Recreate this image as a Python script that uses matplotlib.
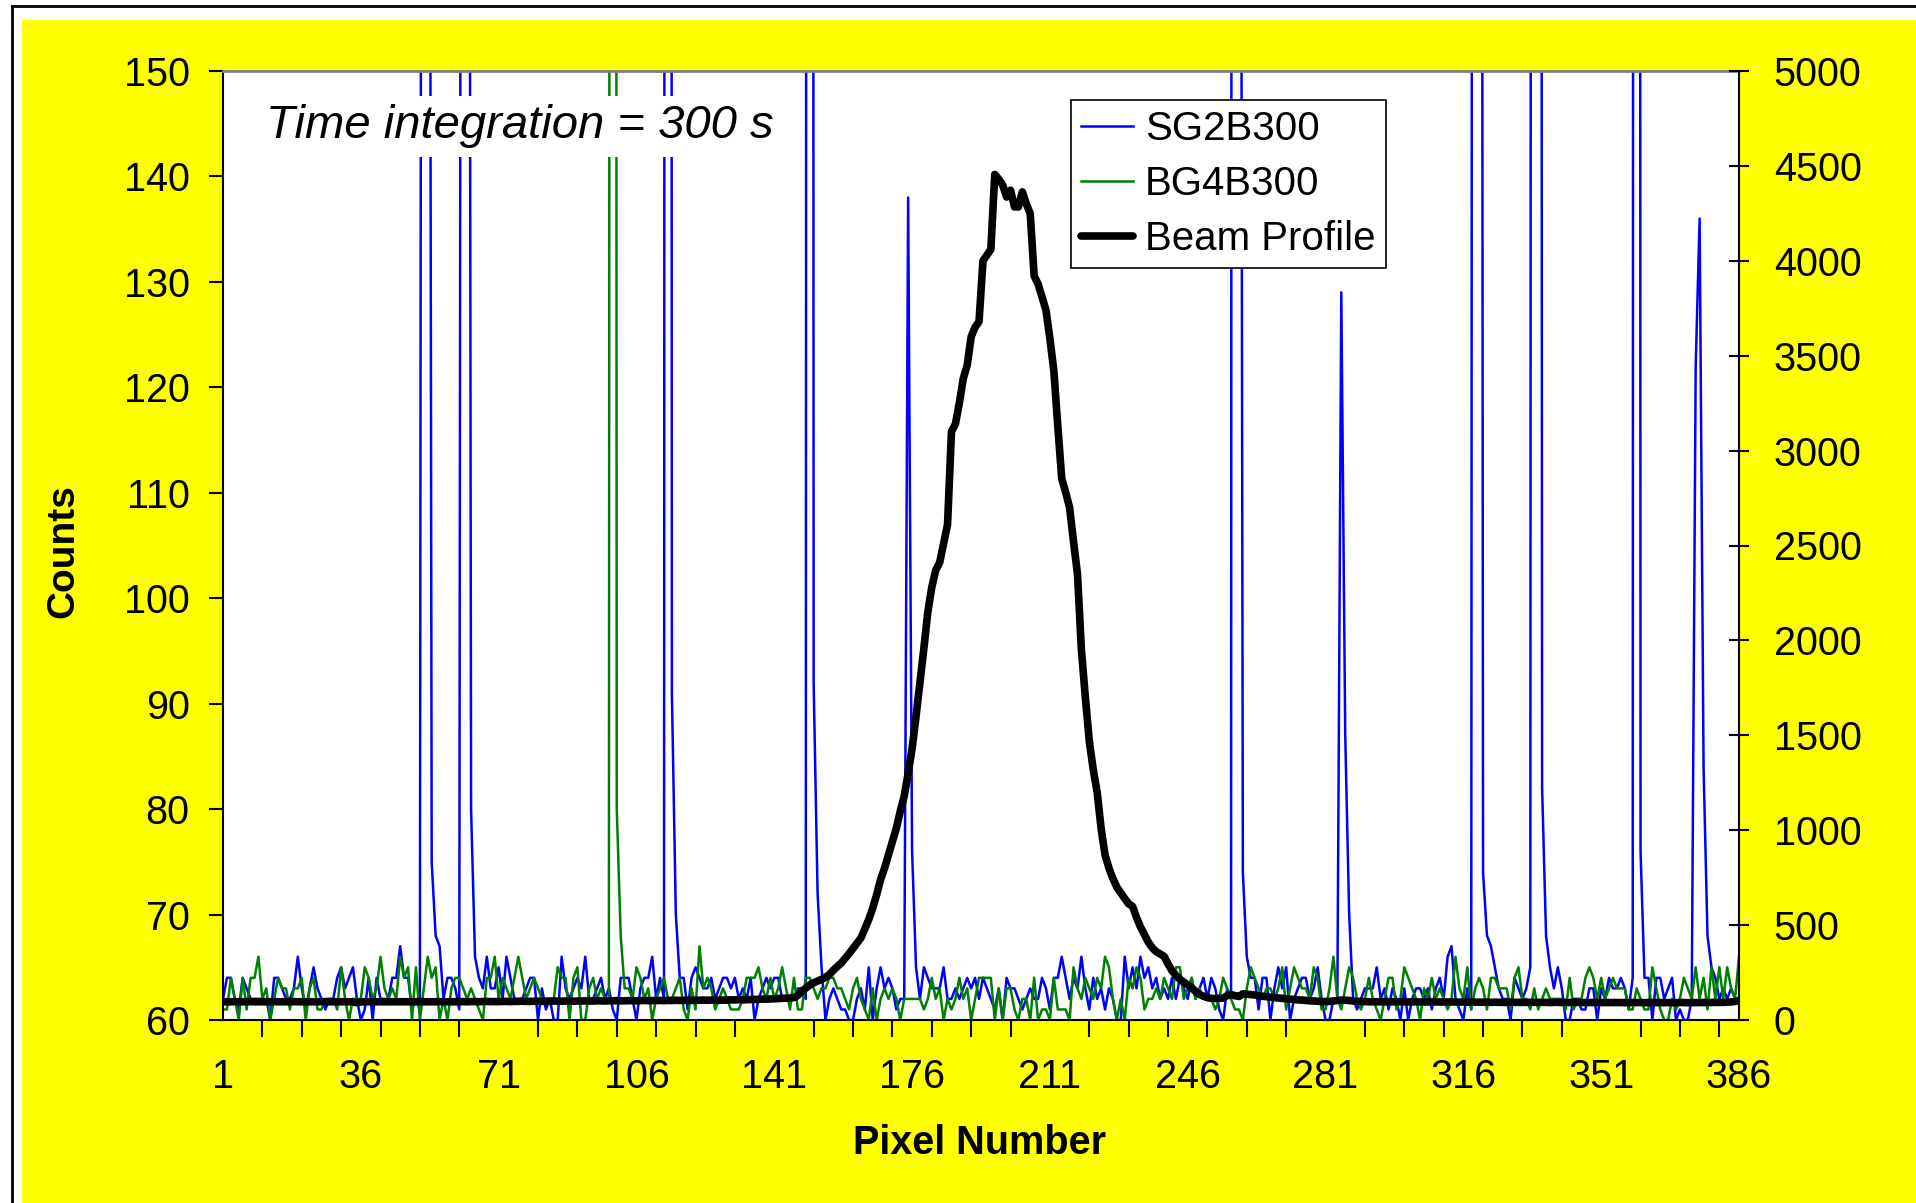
import matplotlib
matplotlib.use("Agg")
import matplotlib.pyplot as plt
from matplotlib.patches import Rectangle
from matplotlib.lines import Line2D

plt.rcParams['font.family'] = ['Liberation Sans', 'DejaVu Sans']

# detector counts per pixel (spikes above 150 are clipped there)
sg2b300 = [
    62, 64, 64, 62, 61, 64, 63, 62, 62, 62,
    62, 62, 60, 64, 64, 63, 62, 62, 63, 66,
    63, 61, 63, 65, 63, 62, 61, 62, 62, 64,
    65, 63, 64, 65, 62, 60, 61, 64, 60, 64,
    62, 62, 62, 64, 64, 67, 64, 64, 61, 62,
    61, 420, 310, 75, 68, 67, 62, 64, 64, 63,
    61, 380, 350, 80, 66, 64, 63, 66, 63, 63,
    65, 62, 66, 64, 62, 62, 62, 63, 64, 64,
    60, 63, 61, 62, 60, 60, 66, 63, 62, 63,
    64, 63, 66, 62, 62, 63, 64, 62, 63, 61,
    60, 64, 64, 64, 62, 60, 63, 64, 64, 66,
    62, 64, 62, 1000, 91, 70, 64, 64, 61, 64,
    65, 64, 63, 63, 64, 62, 63, 64, 64, 63,
    64, 62, 63, 62, 64, 60, 62, 63, 64, 63,
    64, 64, 62, 62, 62, 62, 63, 63, 62, 1000,
    92, 72, 65, 60, 62, 63, 62, 61, 61, 60,
    60, 62, 63, 61, 65, 60, 63, 65, 63, 64,
    63, 61, 62, 62, 138, 76, 65, 62, 65, 64,
    63, 63, 63, 65, 62, 62, 63, 62, 63, 64,
    63, 64, 62, 64, 63, 62, 61, 63, 60, 64,
    63, 63, 62, 61, 62, 63, 62, 62, 64, 63,
    61, 64, 64, 66, 64, 62, 64, 63, 66, 63,
    61, 64, 62, 63, 61, 63, 62, 60, 60, 66,
    63, 65, 63, 66, 64, 65, 63, 64, 62, 63,
    62, 64, 62, 64, 63, 62, 64, 62, 63, 64,
    62, 64, 63, 61, 60, 63, 62, 1000, 300, 74,
    66, 64, 64, 61, 64, 64, 60, 63, 65, 63,
    65, 60, 62, 63, 64, 64, 62, 63, 65, 62,
    60, 60, 62, 62, 129, 87, 70, 62, 61, 62,
    63, 63, 63, 65, 62, 63, 61, 63, 62, 60,
    63, 60, 62, 63, 63, 62, 63, 61, 63, 64,
    62, 66, 67, 62, 61, 60, 63, 61, 700, 500,
    74, 68, 67, 65, 63, 62, 62, 60, 64, 63,
    62, 63, 65, 900, 700, 82, 68, 65, 63, 65,
    63, 60, 60, 62, 62, 61, 61, 63, 63, 60,
    63, 62, 64, 63, 63, 64, 63, 61, 64, 1000,
    76, 64, 64, 60, 64, 64, 62, 63, 64, 60,
    61, 60, 60, 62, 122, 136, 84, 68, 65, 64,
    62, 63, 62, 63, 62, 62,
]

bg4b300 = [
    61, 61, 64, 62, 60, 64, 61, 64, 64, 66,
    62, 63, 60, 62, 64, 63, 63, 61, 63, 63,
    64, 60, 63, 64, 61, 61, 62, 62, 62, 61,
    65, 62, 60, 62, 62, 62, 65, 64, 62, 63,
    66, 63, 62, 63, 62, 66, 64, 65, 60, 65,
    60, 63, 66, 64, 65, 60, 62, 60, 63, 64,
    64, 63, 62, 63, 62, 61, 60, 64, 64, 66,
    62, 64, 63, 62, 64, 66, 64, 62, 63, 64,
    63, 62, 62, 62, 62, 65, 64, 64, 60, 64,
    65, 60, 60, 63, 64, 62, 63, 62, 62, 800,
    80, 68, 63, 63, 62, 65, 64, 62, 63, 60,
    62, 63, 64, 62, 62, 63, 64, 61, 60, 63,
    61, 67, 63, 64, 63, 61, 62, 63, 62, 61,
    61, 61, 62, 64, 64, 64, 65, 63, 62, 64,
    62, 63, 65, 63, 61, 64, 61, 61, 64, 64,
    63, 62, 63, 63, 64, 64, 63, 63, 62, 61,
    63, 64, 62, 61, 60, 63, 60, 62, 63, 62,
    63, 62, 60, 62, 62, 62, 62, 62, 61, 62,
    64, 62, 63, 60, 62, 61, 62, 64, 62, 63,
    60, 62, 64, 64, 64, 64, 60, 63, 60, 63,
    63, 61, 60, 62, 62, 60, 64, 60, 61, 61,
    60, 64, 61, 61, 61, 60, 65, 63, 62, 64,
    63, 62, 64, 63, 66, 65, 62, 60, 62, 60,
    64, 63, 65, 64, 61, 62, 62, 63, 62, 64,
    63, 62, 65, 65, 62, 63, 64, 62, 63, 62,
    62, 62, 61, 62, 64, 63, 62, 61, 61, 60,
    63, 65, 64, 63, 62, 63, 63, 62, 63, 65,
    61, 63, 65, 64, 63, 63, 62, 65, 64, 61,
    61, 63, 66, 62, 61, 63, 65, 64, 62, 61,
    62, 64, 62, 61, 60, 62, 64, 64, 61, 62,
    65, 64, 63, 62, 60, 63, 62, 64, 62, 63,
    62, 61, 62, 66, 63, 62, 65, 61, 63, 64,
    63, 61, 64, 64, 63, 63, 63, 61, 64, 65,
    62, 62, 61, 63, 61, 62, 63, 62, 62, 62,
    62, 61, 64, 61, 62, 62, 64, 65, 64, 62,
    64, 62, 63, 64, 63, 63, 63, 61, 61, 63,
    62, 61, 61, 65, 63, 61, 60, 60, 62, 61,
    62, 64, 63, 62, 65, 62, 64, 61, 65, 62,
    65, 62, 65, 63, 62, 66,
]

beam_profile = [
    96, 96, 96, 97, 96, 96, 96, 97, 96, 96,
    96, 96, 96, 97, 96, 96, 96, 96, 97, 96,
    96, 96, 96, 96, 96, 97, 96, 96, 96, 96,
    96, 96, 96, 95, 91, 95, 96, 96, 96, 96,
    96, 96, 96, 96, 96, 96, 96, 96, 96, 96,
    97, 96, 96, 96, 96, 97, 96, 96, 96, 96,
    96, 97, 96, 97, 97, 96, 97, 98, 97, 97,
    97, 98, 98, 97, 98, 98, 99, 98, 98, 99,
    99, 98, 99, 99, 100, 99, 99, 100, 100, 99,
    100, 100, 101, 100, 100, 101, 101, 100, 101, 101,
    102, 101, 101, 102, 102, 101, 102, 103, 102, 102,
    103, 103, 102, 103, 103, 104, 103, 104, 104, 103,
    104, 104, 105, 104, 105, 105, 104, 105, 105, 106,
    106, 107, 106, 107, 108, 108, 109, 110, 110, 111,
    112, 113, 114, 115, 116, 118, 130, 150, 168, 184,
    196, 205, 214, 225, 240, 262, 282, 300, 325, 350,
    377, 405, 432, 480, 530, 590, 660, 740, 800, 870,
    940, 1010, 1100, 1180, 1300, 1430, 1600, 1780, 1960, 2150,
    2280, 2370, 2410, 2510, 2610, 3100, 3140, 3250, 3380, 3450,
    3600, 3650, 3680, 4000, 4030, 4060, 4455, 4430, 4400, 4336,
    4372, 4284, 4284, 4363, 4300, 4249, 3920, 3878, 3810, 3740,
    3590, 3420, 3130, 2853, 2780, 2700, 2520, 2350, 1950, 1700,
    1470, 1320, 1200, 1010, 870, 800, 745, 700, 670, 640,
    612, 598, 540, 490, 450, 410, 380, 360, 348, 335,
    295, 260, 235, 215, 200, 185, 170, 150, 135, 125,
    118, 114, 113, 114, 116, 128, 135, 128, 124, 138,
    136, 134, 132, 128, 125, 123, 120, 118, 116, 114,
    112, 110, 108, 106, 105, 103, 101, 100, 99, 97,
    97, 98, 100, 103, 105, 104, 103, 100, 98, 97,
    97, 96, 96, 96, 96, 96, 95, 96, 96, 96,
    96, 95, 95, 96, 95, 95, 95, 95, 95, 95,
    95, 95, 95, 95, 94, 95, 94, 94, 94, 94,
    94, 94, 93, 94, 93, 93, 93, 94, 93, 93,
    93, 93, 93, 93, 93, 93, 93, 92, 93, 93,
    92, 93, 92, 92, 93, 92, 92, 92, 92, 92,
    92, 92, 92, 92, 92, 92, 91, 92, 92, 92,
    92, 91, 92, 92, 92, 92, 91, 92, 92, 91,
    92, 92, 91, 92, 92, 92, 92, 92, 92, 93,
    93, 93, 94, 95, 98, 102,
]

x_labels = list(range(1, 387, 35))
x_minor = list(range(1, 387, 10))
left_ticks = list(range(60, 151, 10))
right_ticks = list(range(0, 5001, 500))

W, H = 1916, 1203
fig = plt.figure(figsize=(W / 100, H / 100), dpi=100)
fig.patch.set_facecolor('white')

# chart area: thin black frame top/left, yellow fill
fig.add_artist(Rectangle((22 / W, 0), 1, 1 - 20 / H, transform=fig.transFigure,
                         facecolor='#FFFF00', edgecolor='none', zorder=-5))
fig.add_artist(Line2D([12 / W, 12 / W], [0, 1 - 6 / H], transform=fig.transFigure,
                      color='black', lw=2))
fig.add_artist(Line2D([12 / W, 1], [1 - 6 / H, 1 - 6 / H], transform=fig.transFigure,
                      color='black', lw=2))

ax = fig.add_axes([223 / W, 1 - 1020 / H, (1739 - 223) / W, (1020 - 71) / H])
ax.set_facecolor('white')

px1 = range(1, len(sg2b300) + 1)
px2 = range(1, len(bg4b300) + 1)
px3 = range(1, len(beam_profile) + 1)

l1, = ax.plot(px1, sg2b300, color='#0000FF', lw=1.8, label='SG2B300')
l2, = ax.plot(px2, bg4b300, color='#008000', lw=1.8, label='BG4B300')
ax.set_xlim(1, 386)
ax.set_ylim(60, 150)
ax.set_yticks(left_ticks)
ax.set_xticks(x_labels)
ax.set_xticks(x_minor, minor=True)
ax.tick_params(axis='x', which='major', length=0, pad=27, labelsize=28.5)
ax.tick_params(axis='x', which='minor', length=12, width=1.5, direction='out')
ax.tick_params(axis='y', length=10, width=1.5, direction='out', pad=14, labelsize=28.5)
for s in ['left', 'bottom']:
    ax.spines[s].set_linewidth(1.5)
ax.spines['top'].set_color('#808080')
ax.spines['top'].set_linewidth(2)
ax.spines['right'].set_visible(False)

ax2 = ax.twinx()
l3, = ax2.plot(px3, beam_profile, color='black', lw=5.5, label='Beam Profile',
               solid_joinstyle='round', solid_capstyle='round')
ax2.set_ylim(0, 5000)
ax2.set_yticks(right_ticks)
ax2.tick_params(axis='y', direction='inout', length=14, width=1.5, pad=18, labelsize=28.5)
for s in ['left', 'bottom', 'top']:
    ax2.spines[s].set_visible(False)
ax2.spines['right'].set_linewidth(1.5)

leg = ax2.legend([l1, l2, l3], ['SG2B300', 'BG4B300', 'Beam Profile'],
                 loc='upper left', bbox_to_anchor=(1070.5 / W, 1 - 100 / H),
                 bbox_transform=fig.transFigure, frameon=True, fancybox=False,
                 edgecolor='black', framealpha=1, fontsize=29, borderpad=0.25,
                 labelspacing=0.42, handlelength=1.3, handletextpad=0.3,
                 borderaxespad=0)
leg.get_frame().set_linewidth(1.2)

# the note sits on a white box that hides the spikes behind it
fig.text(266 / W, 1 - 138 / H, 'Time integration = 300 s', fontsize=34,
         style='italic', ha='left', va='baseline',
         bbox=dict(facecolor='white', edgecolor='none', pad=6))
fig.text(63.5 / W, 1 - 551 / H, 'Counts', rotation=90, fontsize=28,
         fontweight='bold', ha='center', va='center')
fig.text(980 / W, 1 - 1143 / H, 'Pixel Number', fontsize=28.5,
         fontweight='bold', ha='center', va='center')

fig.savefig('out.png', dpi=100)
